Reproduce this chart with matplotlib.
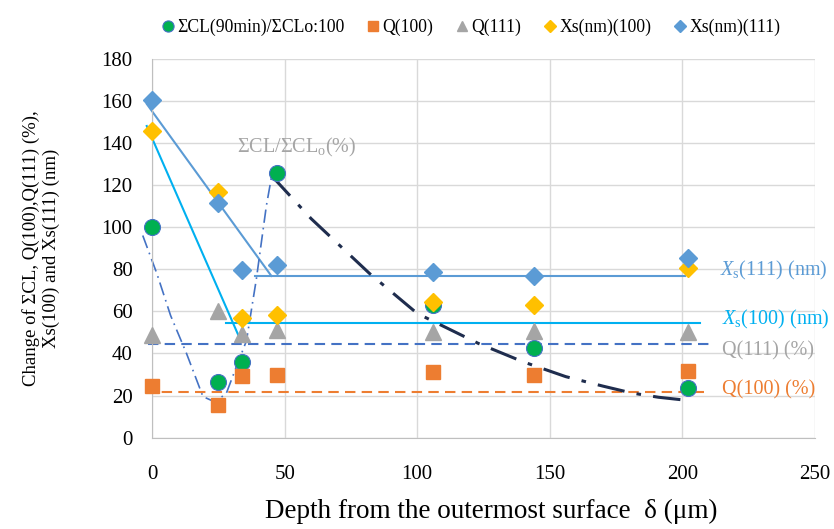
import matplotlib.pyplot as plt

plt.rcParams['font.family'] = ['Liberation Serif', 'DejaVu Serif']
plt.rcParams['mathtext.fontset'] = 'custom'
plt.rcParams['mathtext.rm'] = 'Liberation Serif'
plt.rcParams['mathtext.it'] = 'Liberation Serif:italic'

# measured depths (um)
depth = [0, 25, 34, 47, 106, 144, 202]

# series values
cl = [100, 26.5, 36, 125.5, 63, 42.5, 23.5]
q100 = [24.5, 15.5, 29.3, 29.8, 31, 30, 31.7]
q111 = [49, 60, 49.2, 51.2, 50.3, 50.8, 50]
xs100 = [145.5, 116.5, 56.7, 58.2, 64.6, 63, 80.7]
xs111 = [160.5, 111.3, 79.6, 82, 78.8, 76.9, 85.5]

# guide lines drawn by hand on the original
xs111_fit_x = [-2, 45, 39, 201]
xs111_fit_y = [158.5, 76.8, 76.8, 76.8]
xs100_fit_x = [-2, 32.5]
xs100_fit_y = [148, 48.8]
xs100_lvl_x = [28, 206.5]
xs100_lvl = 54.6
q111_lvl_x = [-1.5, 210]
q111_lvl = 44.5
q100_lvl_x = [-2.5, 208]
q100_lvl = 21.9

cl_fit1_x = [-3.5, 1.8, 7, 13, 19.2, 23.7, 28, 31.8, 35.6, 39.3, 43.1, 45]
cl_fit1_y = [96, 78, 58, 40, 19.5, 17, 21, 33.7, 46, 75, 110, 123.5]
cl_fit2_x = [45, 60, 82, 100, 123, 140, 156, 170, 181, 191, 200.5]
cl_fit2_y = [124.5, 104, 78, 59, 44.8, 36, 29, 24.5, 21.2, 19.2, 17.9]

fig = plt.figure(figsize=(8.34, 5.29), dpi=100)
ax = fig.add_axes([0.1823, 0.1726, 0.7949, 0.7166])

# fit / guide lines
ln = dict(zorder=2, clip_on=False)
ax.plot(xs111_fit_x[:2], xs111_fit_y[:2], color='#5B9BD5', lw=1.5, **ln)
ax.plot(xs111_fit_x[2:], xs111_fit_y[2:], color='#5B9BD5', lw=1.5, **ln)
ax.plot(xs100_fit_x, xs100_fit_y, color='#00B0F0', lw=1.5, **ln)
ax.plot(xs100_lvl_x, [xs100_lvl] * 2, color='#00B0F0', lw=1.5, **ln)
ax.plot(q111_lvl_x, [q111_lvl] * 2, color='#4472C4', lw=1.5, ls=(0, (5, 3)), **ln)
ax.plot(q100_lvl_x, [q100_lvl] * 2, color='#ED7D31', lw=1.5, ls=(0, (5, 3)), **ln)
ax.plot(cl_fit1_x, cl_fit1_y, color='#4472C4', lw=1.2, ls=(0, (8, 3, 1, 3)), **ln)
ax.plot(cl_fit2_x, cl_fit2_y, color='#1F2D4E', lw=2.2, ls=(0, (9, 4, 1.5, 4)), **ln)

# markers
mk = dict(zorder=3, clip_on=False, ls='none')
ax.plot(depth, cl, 'o', color='#00B050', mec='#4472C4', mew=0.8, ms=11.5,
        label='ΣCL(90min)/ΣCLo:100', **mk)
ax.plot(depth, q100, 's', color='#ED7D31', ms=9.5, label='Q(100)', **mk)
ax.plot(depth, q111, '^', color='#A5A5A5', ms=11, label='Q(111)', **mk)
ax.plot(depth, xs100, 'D', color='#FFC000', ms=9, label='Xs(nm)(100)', **mk)
ax.plot(depth, xs111, 'D', color='#5B9BD5', ms=9, label='Xs(nm)(111)', **mk)

# annotations
ax.text(32, 138, 'ΣCL/ΣCL$_\\mathrm{o}$(%)', color='#A5A5A5', fontsize=14.5,
        va='center', ha='left')
ax.text(214, 79.5, '$X_\\mathrm{s}$(111) (nm)', color='#5B9BD5', fontsize=14.5,
        va='center', ha='left', clip_on=False)
ax.text(215, 56, '$X_\\mathrm{s}$(100) (nm)', color='#00B0F0', fontsize=14.5,
        va='center', ha='left', clip_on=False)
ax.text(215, 41, 'Q(111) (%)', color='#A5A5A5', fontsize=14.5,
        va='center', ha='left', clip_on=False)
ax.text(215, 22.5, 'Q(100) (%)', color='#ED7D31', fontsize=14.5,
        va='center', ha='left', clip_on=False)

ax.set_xlim(0, 250)
ax.set_ylim(0, 180)
ax.set_xticks(range(0, 251, 50))
ax.set_yticks(range(0, 181, 20))
ax.grid(True, color='#D9D9D9', lw=1)
ax.set_axisbelow(True)
for s in ['top', 'right']:
    ax.spines[s].set_visible(False)
for s in ['left', 'bottom']:
    ax.spines[s].set_color('#BFBFBF')
ax.tick_params(length=0, labelsize=15, pad=14)
ax.tick_params(axis='x', pad=20)

ax.set_xlabel('Depth from the outermost surface  δ (μm)', fontsize=19.5)
ax.xaxis.set_label_coords(0.512, -0.162)
ax.set_ylabel('Change of ΣCL, Q(100),Q(111) (%),\nXs(100) and Xs(111) (nm)',
              fontsize=13.5, labelpad=30)

fig.legend(loc='upper center', bbox_to_anchor=(0.563, 0.995), ncol=5, frameon=False,
           fontsize=12.7, handletextpad=0.05, columnspacing=1.1, markerscale=0.7,
           handlelength=1.0)

fig.savefig('out.png', dpi=100)
